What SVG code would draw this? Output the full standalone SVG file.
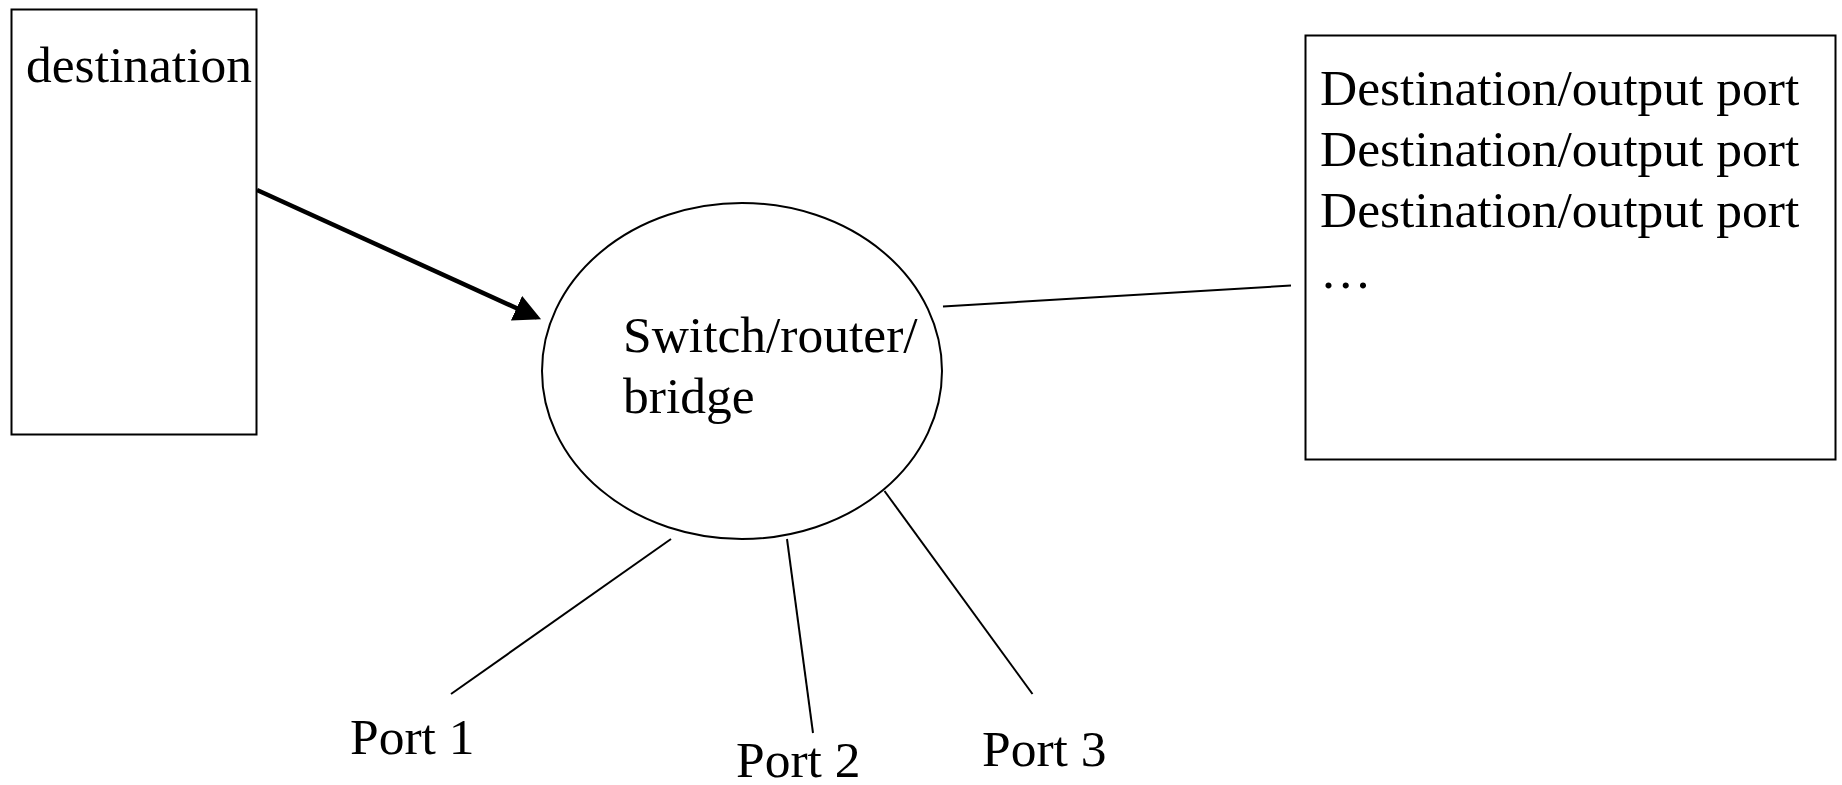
<svg xmlns="http://www.w3.org/2000/svg" width="1842" height="785" viewBox="0 0 1842 785">
<style>
text{font-family:"Liberation Serif","Times New Roman",serif;font-size:51.5px;fill:#000}
.box{fill:#fff;stroke:#000;stroke-width:2}
.ln{stroke:#000;stroke-width:2;fill:none}
</style>
<defs>
<marker id="ah" markerWidth="6" markerHeight="6" refX="5" refY="3" orient="auto" markerUnits="strokeWidth">
<path d="M0,0 L6,3 L0,6 z" fill="#000"/>
</marker>
</defs>
<rect width="1842" height="785" fill="#fff"/>
<g id="source">
<rect class="box" x="11.5" y="9.5" width="245" height="425"/>
<text x="26" y="82">destination</text>
</g>
<g id="switch">
<ellipse class="box" cx="742" cy="371" rx="200" ry="168"/>
<text x="623" y="352">Switch/router/</text>
<text x="623" y="413">bridge</text>
</g>
<g id="table">
<rect class="box" x="1305.5" y="35.5" width="530" height="424"/>
<text x="1320" y="105">Destination/output port</text>
<text x="1320" y="166">Destination/output port</text>
<text x="1320" y="227">Destination/output port</text>
<text x="1320" y="288">…</text>
</g>
<g id="port1"><text x="350" y="754">Port 1</text></g>
<g id="port2"><text x="736" y="777">Port 2</text></g>
<g id="port3"><text x="982" y="766">Port 3</text></g>
<g id="connectors">
<line x1="257" y1="190" x2="537" y2="317.5" stroke="#000" stroke-width="4.5" marker-end="url(#ah)"/>
<line class="ln" x1="943" y1="306.5" x2="1291" y2="285.5"/>
<line class="ln" x1="671" y1="539" x2="451" y2="694"/>
<line class="ln" x1="787" y1="539" x2="813" y2="733"/>
<line class="ln" x1="884.5" y1="491" x2="1032.5" y2="694"/>
</g>
</svg>
